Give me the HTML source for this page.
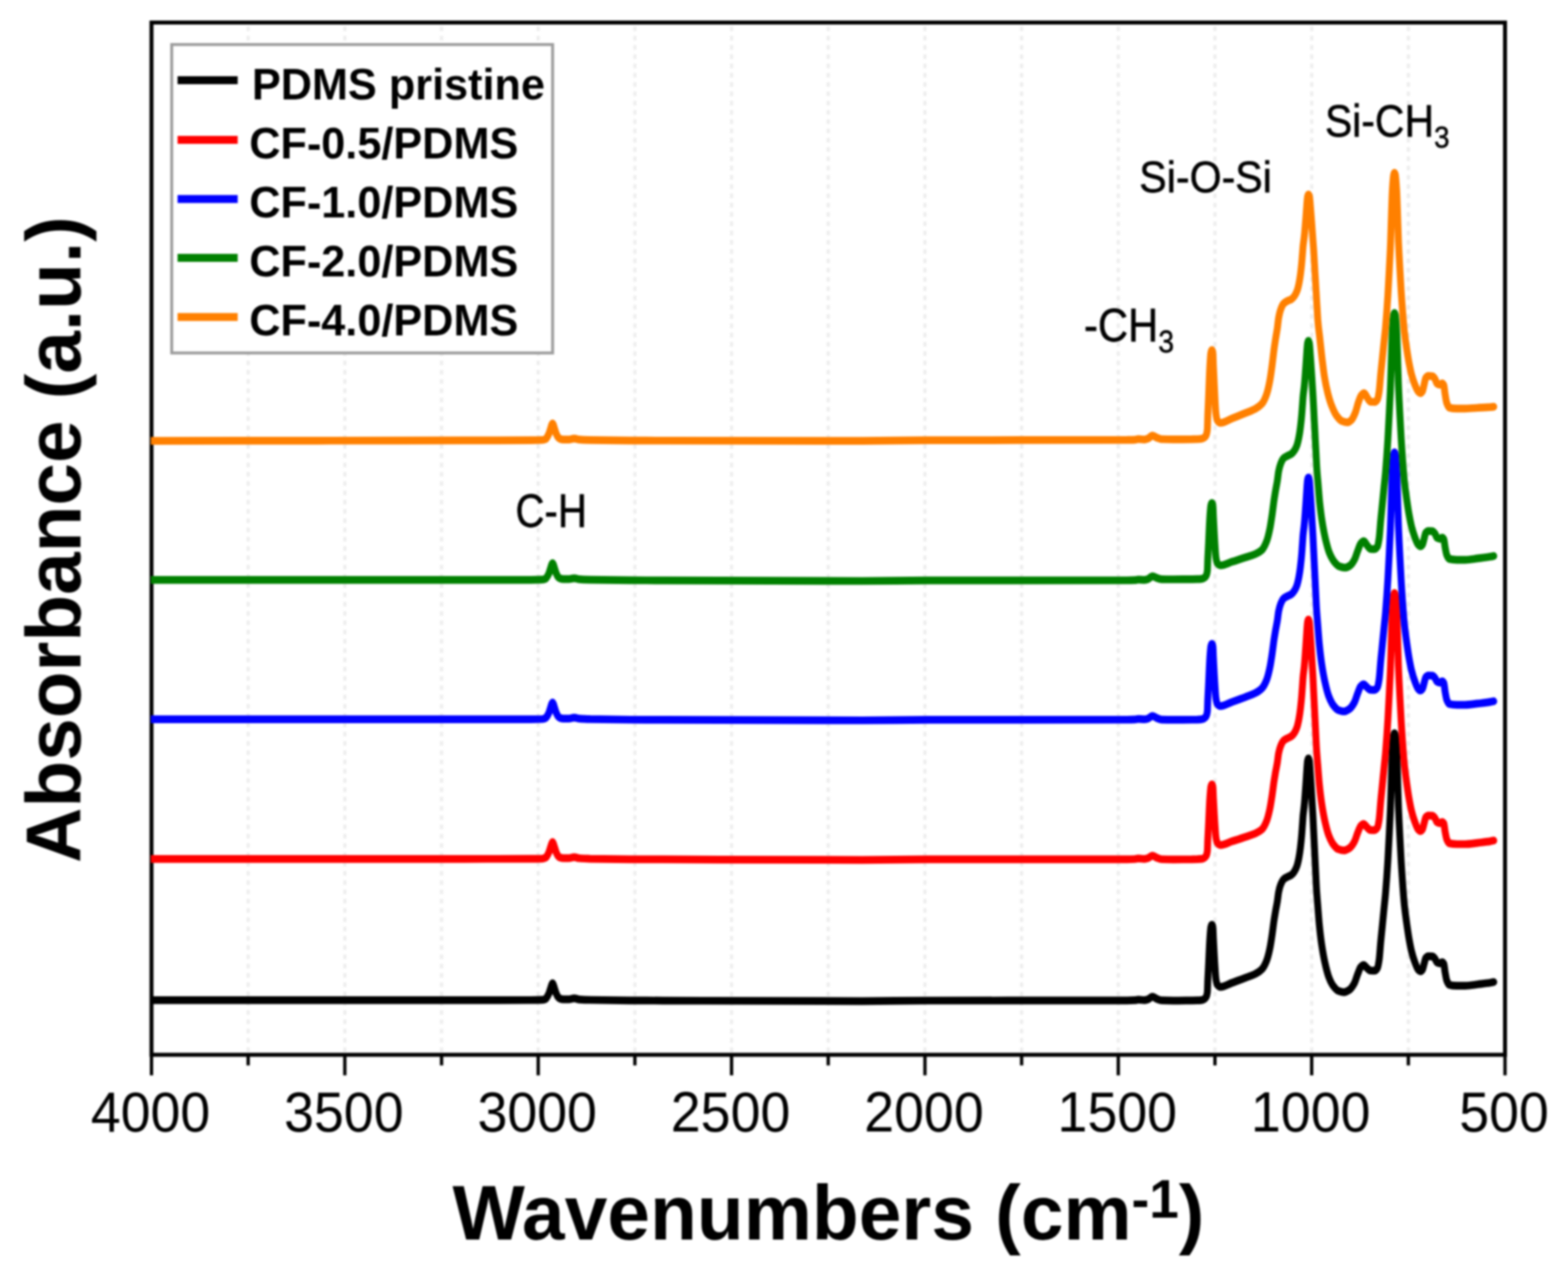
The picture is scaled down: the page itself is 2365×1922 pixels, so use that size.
<!DOCTYPE html>
<html lang="en"><head><meta charset="utf-8"><title>FTIR absorbance spectra</title>
<style>
html,body{margin:0;padding:0;background:#fff;}
body{width:2365px;height:1922px;overflow:hidden;}
svg{display:block;}
text{font-family:"Liberation Sans",Arial,Helvetica,sans-serif;fill:#000;}
.b{font-weight:bold;}
.tick{font-size:81px;text-anchor:middle;}
.leg{font-size:65.2px;font-weight:bold;}
.ann{stroke:#000;stroke-width:0.8px;}
.curve{fill:none;stroke-width:10.4;stroke-linejoin:round;stroke-linecap:round;}
</style></head><body>
<svg xmlns="http://www.w3.org/2000/svg" width="2365" height="1922" viewBox="0 0 2365 1922">
<defs><filter id="soft" x="0" y="0" width="2365" height="1922" filterUnits="userSpaceOnUse" color-interpolation-filters="sRGB"><feGaussianBlur stdDeviation="1.7"/></filter></defs>
<rect x="0" y="0" width="2365" height="1922" fill="#ffffff"/>
<g id="chart" filter="url(#soft)">
<g stroke="#eeeeee" stroke-width="5" stroke-dasharray="7 7" fill="none">
<line x1="374.3" y1="40.0" x2="374.3" y2="1591.3"/>
<line x1="520.1" y1="40.0" x2="520.1" y2="1591.3"/>
<line x1="666.0" y1="40.0" x2="666.0" y2="1591.3"/>
<line x1="811.8" y1="40.0" x2="811.8" y2="1591.3"/>
<line x1="957.6" y1="40.0" x2="957.6" y2="1591.3"/>
<line x1="1103.4" y1="40.0" x2="1103.4" y2="1591.3"/>
<line x1="1249.2" y1="40.0" x2="1249.2" y2="1591.3"/>
<line x1="1395.1" y1="40.0" x2="1395.1" y2="1591.3"/>
<line x1="1540.9" y1="40.0" x2="1540.9" y2="1591.3"/>
<line x1="1686.7" y1="40.0" x2="1686.7" y2="1591.3"/>
<line x1="1832.5" y1="40.0" x2="1832.5" y2="1591.3"/>
<line x1="1978.4" y1="40.0" x2="1978.4" y2="1591.3"/>
<line x1="2124.2" y1="40.0" x2="2124.2" y2="1591.3"/>
</g>
<rect x="228.5" y="34.0" width="2041.5" height="1557.3" fill="none" stroke="#000" stroke-width="6"/>
<clipPath id="cc"><rect x="227.5" y="0" width="2140" height="1922"/></clipPath>
<g class="curves" clip-path="url(#cc)"><g transform="scale(1,1.125)">
<path class="curve" stroke="#000000" d="M228.0,1341.2C318.7,1341.2 409.3,1341.2 500.0,1341.2C566.7,1341.2 633.3,1341.2 700.0,1341.2C733.3,1341.2 766.7,1341.1 800.0,1341.1C806.0,1341.1 812.0,1341.0 818.0,1340.7C819.6,1340.6 821.3,1340.3 822.9,1339.6C823.6,1339.3 824.2,1338.2 824.9,1337.3C825.9,1336.0 826.9,1334.4 827.9,1332.3C828.9,1330.2 829.8,1326.9 830.8,1324.3C831.3,1322.8 831.9,1321.0 832.4,1320.0C832.7,1319.4 833.1,1318.6 833.4,1318.6C833.7,1318.6 834.1,1319.4 834.4,1320.0C834.9,1321.0 835.5,1322.8 836.0,1324.3C837.0,1326.9 837.9,1330.2 838.9,1332.3C839.9,1334.4 840.9,1336.3 841.9,1337.3C842.8,1338.2 843.6,1339.0 844.5,1339.2C846.3,1339.7 848.2,1340.1 850.0,1340.1C852.7,1340.1 855.3,1340.1 858.0,1340.1C860.7,1340.1 863.3,1338.8 866.0,1338.8C868.7,1338.8 871.3,1340.1 874.0,1340.3C879.3,1340.6 884.7,1340.8 890.0,1340.9C910.0,1341.3 930.0,1341.5 950.0,1341.6C966.7,1341.7 983.3,1341.7 1000.0,1341.8C1100.0,1342.1 1200.0,1342.5 1300.0,1342.5C1333.3,1342.5 1366.7,1341.8 1400.0,1341.8C1500.0,1341.7 1600.0,1341.8 1700.0,1341.6C1704.0,1341.6 1708.0,1341.5 1712.0,1341.3C1713.7,1341.3 1715.3,1340.6 1717.0,1340.6C1720.0,1340.6 1723.0,1341.2 1726.0,1341.2C1727.8,1341.2 1729.7,1340.6 1731.5,1340.1C1733.8,1339.5 1736.0,1336.5 1738.3,1336.5C1740.5,1336.5 1742.8,1338.8 1745.0,1339.6C1747.3,1340.4 1749.7,1341.4 1752.0,1341.5C1758.0,1341.8 1764.0,1341.9 1770.0,1341.9C1779.3,1341.9 1788.7,1341.7 1798.0,1341.6C1800.7,1341.6 1803.3,1341.6 1806.0,1341.5C1808.3,1341.5 1810.7,1341.3 1813.0,1341.0C1814.3,1340.8 1815.7,1340.2 1817.0,1339.4C1817.8,1338.9 1818.7,1338.0 1819.5,1336.4C1820.0,1335.5 1820.5,1334.2 1821.0,1330.7C1821.3,1328.8 1821.5,1317.7 1821.8,1312.5C1822.1,1306.7 1822.4,1302.5 1822.7,1297.2C1823.4,1285.0 1824.1,1267.9 1824.8,1258.8C1825.3,1252.4 1825.8,1245.9 1826.3,1243.6C1826.6,1242.3 1826.8,1241.3 1827.1,1240.9C1827.4,1240.4 1827.6,1240.0 1827.9,1240.0C1828.2,1240.0 1828.4,1240.4 1828.7,1240.9C1828.9,1241.3 1829.2,1242.1 1829.4,1243.6C1829.7,1245.2 1829.9,1254.1 1830.2,1258.8C1831.0,1273.0 1831.8,1286.6 1832.6,1297.2C1833.0,1303.0 1833.5,1310.0 1833.9,1312.5C1834.6,1316.7 1835.3,1319.6 1836.0,1320.4C1837.6,1322.3 1839.2,1323.5 1840.8,1323.5C1846.6,1323.5 1852.5,1319.8 1858.3,1317.9C1865.3,1315.6 1872.4,1313.3 1879.4,1310.9C1884.1,1309.3 1888.7,1308.1 1893.4,1306.0C1896.7,1304.4 1900.0,1302.8 1903.3,1299.7C1905.6,1297.6 1908.0,1293.7 1910.3,1288.5C1911.9,1284.9 1913.6,1279.1 1915.2,1272.3C1916.4,1267.4 1917.5,1260.5 1918.7,1253.5C1919.6,1247.9 1920.6,1240.4 1921.5,1234.8C1922.3,1229.9 1923.2,1225.6 1924.0,1221.3C1924.9,1216.9 1925.7,1213.7 1926.6,1208.9C1927.2,1205.4 1927.9,1199.4 1928.5,1196.5C1929.5,1192.0 1930.5,1188.8 1931.5,1186.6C1933.0,1183.2 1934.5,1180.5 1936.0,1179.2C1938.0,1177.5 1939.9,1176.9 1941.9,1175.9C1943.9,1174.9 1945.9,1174.5 1947.9,1173.2C1949.4,1172.3 1950.9,1170.6 1952.4,1168.5C1953.7,1166.8 1954.9,1164.5 1956.2,1161.2C1957.2,1158.7 1958.2,1154.7 1959.2,1150.0C1959.9,1146.5 1960.7,1141.9 1961.4,1136.6C1962.0,1132.1 1962.7,1126.5 1963.3,1120.0C1963.7,1116.2 1964.0,1111.1 1964.4,1106.7C1964.8,1102.2 1965.1,1096.9 1965.5,1093.3C1966.1,1087.9 1966.6,1085.3 1967.2,1080.0C1968.0,1072.9 1968.7,1062.9 1969.5,1053.3C1970.0,1047.5 1970.4,1040.9 1970.9,1034.7C1971.1,1032.0 1971.3,1028.8 1971.5,1026.7C1971.8,1023.8 1972.0,1020.5 1972.3,1019.6C1972.7,1018.1 1973.1,1016.9 1973.5,1016.9C1973.9,1016.9 1974.3,1018.1 1974.7,1019.6C1975.0,1020.5 1975.2,1023.8 1975.5,1026.7C1975.7,1028.8 1975.9,1032.0 1976.1,1034.7C1976.6,1040.9 1977.0,1046.8 1977.5,1053.3C1978.1,1061.7 1978.7,1071.1 1979.3,1080.0C1979.6,1084.4 1979.9,1088.5 1980.2,1093.3C1980.6,1099.3 1980.9,1106.7 1981.3,1113.3C1981.7,1120.0 1982.0,1126.6 1982.4,1133.2C1982.8,1139.9 1983.1,1146.6 1983.5,1153.2C1983.9,1159.9 1984.2,1166.6 1984.6,1173.2C1984.9,1179.3 1985.3,1186.3 1985.6,1191.1C1986.2,1199.8 1986.8,1205.6 1987.4,1212.4C1988.3,1222.3 1989.1,1233.1 1990.0,1240.9C1991.1,1250.8 1992.2,1259.1 1993.3,1265.8C1995.0,1275.9 1996.6,1284.0 1998.3,1290.7C2000.2,1298.3 2002.1,1305.2 2004.0,1309.7C2006.3,1315.2 2008.7,1319.5 2011.0,1322.2C2013.5,1325.1 2015.9,1327.9 2018.4,1328.7C2021.2,1329.7 2024.1,1330.5 2026.9,1330.5C2029.7,1330.5 2032.4,1329.0 2035.2,1327.4C2037.7,1325.9 2040.3,1322.5 2042.8,1318.4C2044.5,1315.6 2046.2,1309.7 2047.9,1306.0C2049.4,1302.7 2050.8,1298.4 2052.3,1297.0C2053.8,1295.5 2055.2,1294.1 2056.7,1294.1C2058.4,1294.1 2060.1,1296.9 2061.8,1298.1C2063.5,1299.4 2065.2,1301.4 2066.9,1301.5C2069.0,1301.6 2071.1,1301.7 2073.2,1301.7C2074.7,1301.7 2076.1,1300.3 2077.6,1298.1C2078.5,1296.9 2079.3,1292.2 2080.2,1286.8C2080.9,1282.3 2081.7,1271.4 2082.4,1264.4C2083.2,1256.4 2084.1,1249.3 2084.9,1241.8C2085.7,1234.3 2086.6,1226.8 2087.4,1219.3C2088.2,1211.8 2089.1,1205.4 2089.9,1196.7C2091.0,1184.9 2092.2,1170.4 2093.3,1153.8C2094.0,1143.0 2094.8,1129.7 2095.5,1116.4C2096.1,1105.0 2096.8,1094.7 2097.4,1080.0C2097.9,1068.4 2098.4,1049.6 2098.9,1036.4C2099.3,1026.8 2099.6,1016.2 2100.0,1009.8C2100.4,1002.1 2100.9,996.2 2101.3,992.0C2101.6,989.4 2101.8,986.7 2102.1,985.8C2102.5,984.3 2102.9,983.1 2103.3,983.1C2103.7,983.1 2104.1,984.3 2104.5,985.8C2104.8,986.7 2105.0,989.4 2105.3,992.0C2105.7,996.2 2106.2,1002.1 2106.6,1009.8C2107.0,1016.2 2107.3,1026.8 2107.7,1036.4C2108.2,1049.6 2108.7,1068.4 2109.2,1080.0C2109.8,1094.7 2110.5,1105.0 2111.1,1116.4C2111.8,1129.7 2112.6,1142.8 2113.3,1153.8C2114.2,1167.8 2115.2,1180.1 2116.1,1191.1C2116.8,1199.4 2117.5,1207.6 2118.2,1213.6C2119.3,1222.8 2120.3,1229.3 2121.4,1236.2C2122.7,1244.4 2123.9,1252.2 2125.2,1258.7C2126.5,1265.1 2127.7,1271.0 2129.0,1275.6C2130.7,1281.5 2132.3,1286.3 2134.0,1290.2C2135.7,1294.3 2137.4,1298.7 2139.1,1300.4C2140.2,1301.4 2141.2,1302.6 2142.3,1302.6C2143.3,1302.6 2144.4,1301.6 2145.4,1300.4C2146.3,1299.3 2147.1,1295.1 2148.0,1292.4C2148.8,1289.9 2149.7,1285.5 2150.5,1284.6C2151.8,1283.3 2153.0,1282.3 2154.3,1282.3C2156.4,1282.3 2158.5,1282.4 2160.6,1282.6C2161.9,1282.7 2163.1,1284.3 2164.4,1285.7C2165.5,1286.9 2166.5,1290.3 2167.6,1290.8C2169.1,1291.4 2170.5,1291.9 2172.0,1291.9C2173.1,1291.9 2174.1,1290.2 2175.2,1290.2C2176.0,1290.2 2176.9,1291.1 2177.7,1292.4C2178.3,1293.5 2179.0,1300.5 2179.6,1303.7C2180.5,1308.1 2181.3,1313.1 2182.2,1315.0C2183.5,1317.9 2184.7,1320.3 2186.0,1320.6C2189.8,1321.5 2193.6,1321.8 2197.4,1321.8C2201.6,1321.8 2205.8,1321.8 2210.0,1321.8C2216.3,1321.8 2222.7,1320.7 2229.0,1320.0C2235.3,1319.3 2241.7,1318.7 2248.0,1317.8C2249.7,1317.5 2251.3,1317.2 2253.0,1316.9"/>
<path class="curve" stroke="#ff0000" d="M228.0,1151.8C318.7,1151.8 409.3,1151.8 500.0,1151.8C566.7,1151.8 633.3,1151.8 700.0,1151.8C733.3,1151.8 766.7,1151.8 800.0,1151.7C806.0,1151.7 812.0,1151.6 818.0,1151.4C819.6,1151.3 821.3,1150.9 822.9,1150.2C823.6,1149.9 824.2,1148.9 824.9,1148.0C825.9,1146.7 826.9,1145.0 827.9,1142.9C828.9,1140.9 829.8,1137.6 830.8,1134.9C831.3,1133.5 831.9,1131.6 832.4,1130.7C832.7,1130.1 833.1,1129.2 833.4,1129.2C833.7,1129.2 834.1,1130.1 834.4,1130.7C834.9,1131.6 835.5,1133.5 836.0,1134.9C837.0,1137.6 837.9,1140.9 838.9,1142.9C839.9,1145.0 840.9,1147.0 841.9,1148.0C842.8,1148.9 843.6,1149.6 844.5,1149.9C846.3,1150.4 848.2,1150.8 850.0,1150.8C852.7,1150.8 855.3,1150.8 858.0,1150.8C860.7,1150.8 863.3,1149.5 866.0,1149.5C868.7,1149.5 871.3,1150.8 874.0,1150.9C879.3,1151.3 884.7,1151.4 890.0,1151.6C910.0,1152.0 930.0,1152.2 950.0,1152.3C966.7,1152.4 983.3,1152.4 1000.0,1152.4C1100.0,1152.7 1200.0,1153.2 1300.0,1153.2C1333.3,1153.2 1366.7,1152.5 1400.0,1152.4C1500.0,1152.3 1600.0,1152.4 1700.0,1152.3C1704.0,1152.3 1708.0,1152.2 1712.0,1152.0C1713.7,1151.9 1715.3,1151.3 1717.0,1151.3C1720.0,1151.3 1723.0,1151.8 1726.0,1151.8C1727.8,1151.8 1729.7,1151.3 1731.5,1150.8C1733.8,1150.2 1736.0,1147.4 1738.3,1147.4C1740.5,1147.4 1742.8,1149.6 1745.0,1150.3C1747.3,1151.1 1749.7,1152.1 1752.0,1152.2C1758.0,1152.4 1764.0,1152.5 1770.0,1152.5C1779.3,1152.5 1788.7,1152.4 1798.0,1152.3C1800.7,1152.2 1803.3,1152.2 1806.0,1152.2C1808.3,1152.1 1810.7,1152.0 1813.0,1151.7C1814.3,1151.5 1815.7,1150.9 1817.0,1150.1C1817.8,1149.6 1818.7,1148.7 1819.5,1147.2C1820.0,1146.2 1820.5,1145.0 1821.0,1141.5C1821.3,1139.6 1821.5,1128.7 1821.8,1123.6C1822.1,1117.8 1822.4,1113.6 1822.7,1108.5C1823.4,1096.3 1824.1,1079.4 1824.8,1070.5C1825.3,1064.2 1825.8,1057.8 1826.3,1055.4C1826.6,1054.2 1826.8,1053.2 1827.1,1052.8C1827.4,1052.4 1827.6,1051.9 1827.9,1051.9C1828.2,1051.9 1828.4,1052.3 1828.7,1052.8C1828.9,1053.2 1829.2,1054.0 1829.4,1055.4C1829.7,1057.0 1829.9,1065.7 1830.2,1070.3C1831.0,1084.0 1831.8,1097.2 1832.6,1107.6C1833.0,1113.3 1833.5,1120.0 1833.9,1122.5C1834.6,1126.6 1835.3,1129.4 1836.0,1130.2C1837.6,1132.1 1839.2,1133.2 1840.8,1133.2C1846.6,1133.2 1852.5,1129.9 1858.3,1128.2C1865.3,1126.2 1872.4,1124.2 1879.4,1122.1C1884.1,1120.7 1888.7,1119.6 1893.4,1117.7C1896.7,1116.4 1900.0,1115.0 1903.3,1112.3C1905.6,1110.3 1908.0,1106.3 1910.3,1101.2C1911.9,1097.6 1913.6,1091.8 1915.2,1085.1C1916.4,1080.3 1917.5,1073.5 1918.7,1066.6C1919.6,1061.1 1920.6,1053.7 1921.5,1048.2C1922.3,1043.3 1923.2,1039.0 1924.0,1034.8C1924.9,1030.5 1925.7,1027.3 1926.6,1022.5C1927.2,1019.1 1927.9,1013.1 1928.5,1010.3C1929.5,1005.9 1930.5,1002.7 1931.5,1000.5C1933.0,997.2 1934.5,994.5 1936.0,993.2C1938.0,991.6 1939.9,990.9 1941.9,990.0C1943.9,989.0 1945.9,988.6 1947.9,987.3C1949.4,986.3 1950.9,984.6 1952.4,982.6C1953.7,980.8 1954.9,978.5 1956.2,975.3C1957.2,972.7 1958.2,968.7 1959.2,964.0C1959.9,960.5 1960.7,955.9 1961.4,950.6C1962.0,946.1 1962.7,940.5 1963.3,934.0C1963.7,930.2 1964.0,925.1 1964.4,920.6C1964.8,916.2 1965.1,910.8 1965.5,907.3C1966.1,901.8 1966.6,899.2 1967.2,893.9C1968.0,886.8 1968.7,876.8 1969.5,867.2C1970.0,861.4 1970.4,854.8 1970.9,848.6C1971.1,845.9 1971.3,842.7 1971.5,840.5C1971.8,837.7 1972.0,834.4 1972.3,833.4C1972.7,831.9 1973.1,830.8 1973.5,830.8C1973.9,830.8 1974.3,831.9 1974.7,833.4C1975.0,834.4 1975.2,837.6 1975.5,840.4C1975.7,842.5 1975.9,845.7 1976.1,848.3C1976.6,854.5 1977.0,860.3 1977.5,866.7C1978.1,875.0 1978.7,884.3 1979.3,893.1C1979.6,897.5 1979.9,901.4 1980.2,906.2C1980.6,912.1 1980.9,919.4 1981.3,926.0C1981.7,932.6 1982.0,939.1 1982.4,945.7C1982.8,952.2 1983.1,958.8 1983.5,965.4C1983.9,972.0 1984.2,978.6 1984.6,985.2C1984.9,991.1 1985.3,998.0 1985.6,1002.8C1986.2,1011.4 1986.8,1017.1 1987.4,1023.9C1988.3,1033.6 1989.1,1044.3 1990.0,1052.0C1991.1,1061.7 1992.2,1069.9 1993.3,1076.5C1995.0,1086.6 1996.6,1094.5 1998.3,1101.1C2000.2,1108.6 2002.1,1115.5 2004.0,1119.9C2006.3,1125.3 2008.7,1129.6 2011.0,1132.3C2013.5,1135.2 2015.9,1137.9 2018.4,1138.7C2021.2,1139.6 2024.1,1140.4 2026.9,1140.4C2029.7,1140.4 2032.4,1139.0 2035.2,1137.4C2037.7,1136.0 2040.3,1132.7 2042.8,1128.6C2044.5,1125.9 2046.2,1120.1 2047.9,1116.5C2049.4,1113.3 2050.8,1109.1 2052.3,1107.7C2053.8,1106.3 2055.2,1104.9 2056.7,1104.9C2058.4,1104.9 2060.1,1108.0 2061.8,1109.3C2063.5,1110.7 2065.2,1112.9 2066.9,1113.0C2069.0,1113.2 2071.1,1113.2 2073.2,1113.2C2074.7,1113.2 2076.1,1111.8 2077.6,1109.7C2078.5,1108.4 2079.3,1103.8 2080.2,1098.4C2080.9,1093.9 2081.7,1083.0 2082.4,1076.0C2083.2,1068.0 2084.1,1060.9 2084.9,1053.4C2085.7,1045.9 2086.6,1038.5 2087.4,1031.0C2088.2,1023.5 2089.1,1017.1 2089.9,1008.4C2091.0,996.6 2092.2,982.1 2093.3,965.5C2094.0,954.8 2094.8,941.5 2095.5,928.3C2096.1,916.9 2096.8,906.6 2097.4,891.9C2097.9,880.2 2098.4,861.5 2098.9,848.4C2099.3,838.7 2099.6,828.2 2100.0,821.7C2100.4,814.1 2100.9,808.2 2101.3,804.0C2101.6,801.4 2101.8,798.7 2102.1,797.8C2102.5,796.3 2102.9,795.1 2103.3,795.1C2103.7,795.1 2104.1,796.3 2104.5,797.8C2104.8,798.7 2105.0,801.4 2105.3,804.0C2105.7,808.2 2106.2,814.1 2106.6,821.8C2107.0,828.2 2107.3,838.8 2107.7,848.4C2108.2,861.6 2108.7,880.3 2109.2,892.0C2109.8,906.7 2110.5,917.0 2111.1,928.4C2111.8,941.6 2112.6,954.7 2113.3,965.7C2114.2,979.7 2115.2,992.0 2116.1,1003.1C2116.8,1011.3 2117.5,1019.5 2118.2,1025.5C2119.3,1034.7 2120.3,1041.2 2121.4,1048.1C2122.7,1056.3 2123.9,1064.2 2125.2,1070.6C2126.5,1077.0 2127.7,1083.0 2129.0,1087.5C2130.7,1093.4 2132.3,1098.2 2134.0,1102.1C2135.7,1106.2 2137.4,1110.6 2139.1,1112.3C2140.2,1113.3 2141.2,1114.5 2142.3,1114.5C2143.3,1114.5 2144.4,1113.5 2145.4,1112.2C2146.3,1111.1 2147.1,1106.8 2148.0,1104.0C2148.8,1101.4 2149.7,1096.9 2150.5,1096.0C2151.8,1094.6 2153.0,1093.6 2154.3,1093.6C2156.4,1093.6 2158.5,1093.7 2160.6,1093.9C2161.9,1094.0 2163.1,1095.7 2164.4,1097.2C2165.5,1098.4 2166.5,1102.1 2167.6,1102.6C2169.1,1103.3 2170.5,1103.8 2172.0,1103.8C2173.1,1103.8 2174.1,1102.2 2175.2,1102.2C2176.0,1102.2 2176.9,1103.1 2177.7,1104.3C2178.3,1105.3 2179.0,1112.0 2179.6,1115.0C2180.5,1119.1 2181.3,1123.8 2182.2,1125.6C2183.5,1128.3 2184.7,1130.6 2186.0,1130.9C2189.8,1131.7 2193.6,1132.0 2197.4,1132.0C2201.6,1132.0 2205.8,1132.0 2210.0,1132.0C2216.3,1132.0 2222.7,1130.9 2229.0,1130.3C2235.3,1129.6 2241.7,1129.0 2248.0,1128.1C2249.7,1127.8 2251.3,1127.5 2253.0,1127.2"/>
<path class="curve" stroke="#0000ff" d="M228.0,964.6C318.7,964.6 409.3,964.6 500.0,964.6C566.7,964.6 633.3,964.6 700.0,964.6C733.3,964.6 766.7,964.6 800.0,964.5C806.0,964.5 812.0,964.4 818.0,964.2C819.6,964.1 821.3,963.7 822.9,963.0C823.6,962.7 824.2,961.7 824.9,960.8C825.9,959.5 826.9,957.8 827.9,955.7C828.9,953.7 829.8,950.4 830.8,947.7C831.3,946.3 831.9,944.4 832.4,943.5C832.7,942.9 833.1,942.0 833.4,942.0C833.7,942.0 834.1,942.9 834.4,943.5C834.9,944.4 835.5,946.3 836.0,947.7C837.0,950.4 837.9,953.7 838.9,955.7C839.9,957.8 840.9,959.8 841.9,960.8C842.8,961.7 843.6,962.4 844.5,962.7C846.3,963.2 848.2,963.6 850.0,963.6C852.7,963.6 855.3,963.6 858.0,963.6C860.7,963.6 863.3,962.3 866.0,962.3C868.7,962.3 871.3,963.6 874.0,963.7C879.3,964.1 884.7,964.2 890.0,964.4C910.0,964.8 930.0,965.0 950.0,965.1C966.7,965.2 983.3,965.2 1000.0,965.2C1100.0,965.5 1200.0,966.0 1300.0,966.0C1333.3,966.0 1366.7,965.3 1400.0,965.2C1500.0,965.1 1600.0,965.2 1700.0,965.1C1704.0,965.1 1708.0,965.0 1712.0,964.8C1713.7,964.7 1715.3,964.1 1717.0,964.1C1720.0,964.1 1723.0,964.6 1726.0,964.6C1727.8,964.6 1729.7,964.1 1731.5,963.6C1733.8,962.9 1736.0,960.0 1738.3,960.0C1740.5,960.0 1742.8,962.3 1745.0,963.0C1747.3,963.8 1749.7,964.9 1752.0,965.0C1758.0,965.2 1764.0,965.3 1770.0,965.3C1779.3,965.3 1788.7,965.2 1798.0,965.1C1800.7,965.0 1803.3,965.0 1806.0,965.0C1808.3,964.9 1810.7,964.8 1813.0,964.4C1814.3,964.3 1815.7,963.7 1817.0,962.8C1817.8,962.3 1818.7,961.5 1819.5,959.9C1820.0,959.0 1820.5,957.7 1821.0,954.1C1821.3,952.2 1821.5,941.2 1821.8,936.0C1822.1,930.2 1822.4,926.0 1822.7,920.7C1823.4,908.4 1824.1,891.3 1824.8,882.3C1825.3,875.9 1825.8,869.4 1826.3,867.0C1826.6,865.7 1826.8,864.8 1827.1,864.4C1827.4,863.9 1827.6,863.5 1827.9,863.5C1828.2,863.5 1828.4,863.9 1828.7,864.4C1828.9,864.8 1829.2,865.6 1829.4,867.0C1829.7,868.7 1829.9,877.6 1830.2,882.3C1831.0,896.5 1831.8,910.0 1832.6,920.7C1833.0,926.5 1833.5,933.4 1833.9,936.0C1834.6,940.2 1835.3,943.1 1836.0,943.9C1837.6,945.8 1839.2,946.9 1840.8,946.9C1846.6,946.9 1852.5,943.2 1858.3,941.3C1865.3,939.1 1872.4,936.8 1879.4,934.4C1884.1,932.8 1888.7,931.6 1893.4,929.4C1896.7,927.9 1900.0,926.3 1903.3,923.2C1905.6,921.0 1908.0,917.1 1910.3,912.0C1911.9,908.4 1913.6,902.5 1915.2,895.7C1916.4,890.9 1917.5,883.9 1918.7,877.0C1919.6,871.4 1920.6,863.9 1921.5,858.3C1922.3,853.3 1923.2,849.0 1924.0,844.8C1924.9,840.4 1925.7,837.2 1926.6,832.4C1927.2,828.8 1927.9,822.9 1928.5,820.0C1929.5,815.5 1930.5,812.3 1931.5,810.0C1933.0,806.7 1934.5,803.9 1936.0,802.7C1938.0,801.0 1939.9,800.4 1941.9,799.4C1943.9,798.4 1945.9,798.0 1947.9,796.7C1949.4,795.8 1950.9,794.0 1952.4,792.0C1953.7,790.3 1954.9,788.0 1956.2,784.7C1957.2,782.1 1958.2,778.1 1959.2,773.4C1959.9,770.0 1960.7,765.4 1961.4,760.1C1962.0,755.5 1962.7,750.0 1963.3,743.5C1963.7,739.7 1964.0,734.6 1964.4,730.1C1964.8,725.7 1965.1,720.3 1965.5,716.8C1966.1,711.3 1966.6,708.7 1967.2,703.5C1968.0,696.4 1968.7,686.4 1969.5,676.8C1970.0,671.0 1970.4,664.4 1970.9,658.1C1971.1,655.5 1971.3,652.3 1971.5,650.1C1971.8,647.3 1972.0,644.0 1972.3,643.0C1972.7,641.5 1973.1,640.4 1973.5,640.4C1973.9,640.4 1974.3,641.5 1974.7,643.0C1975.0,644.0 1975.2,647.3 1975.5,650.1C1975.7,652.3 1975.9,655.5 1976.1,658.1C1976.6,664.4 1977.0,670.3 1977.5,676.8C1978.1,685.2 1978.7,694.6 1979.3,703.5C1979.6,707.9 1979.9,711.9 1980.2,716.8C1980.6,722.8 1980.9,730.1 1981.3,736.8C1981.7,743.5 1982.0,750.1 1982.4,756.7C1982.8,763.4 1983.1,770.0 1983.5,776.7C1983.9,783.4 1984.2,790.1 1984.6,796.7C1984.9,802.7 1985.3,809.7 1985.6,814.6C1986.2,823.3 1986.8,829.1 1987.4,835.9C1988.3,845.8 1989.1,856.6 1990.0,864.4C1991.1,874.2 1992.2,882.6 1993.3,889.2C1995.0,899.4 1996.6,907.4 1998.3,914.1C2000.2,921.8 2002.1,928.7 2004.0,933.2C2006.3,938.7 2008.7,942.9 2011.0,945.7C2013.5,948.6 2015.9,951.3 2018.4,952.2C2021.2,953.1 2024.1,954.0 2026.9,954.0C2029.7,954.0 2032.4,952.4 2035.2,950.8C2037.7,949.4 2040.3,946.0 2042.8,941.9C2044.5,939.1 2046.2,933.2 2047.9,929.4C2049.4,926.2 2050.8,921.9 2052.3,920.4C2053.8,919.0 2055.2,917.6 2056.7,917.6C2058.4,917.6 2060.1,920.4 2061.8,921.6C2063.5,922.8 2065.2,924.9 2066.9,925.0C2069.0,925.1 2071.1,925.2 2073.2,925.2C2074.7,925.2 2076.1,923.7 2077.6,921.6C2078.5,920.3 2079.3,915.7 2080.2,910.3C2080.9,905.8 2081.7,894.9 2082.4,887.8C2083.2,879.8 2084.1,872.8 2084.9,865.2C2085.7,857.7 2086.6,850.3 2087.4,842.8C2088.2,835.2 2089.1,828.9 2089.9,820.2C2091.0,808.3 2092.2,793.8 2093.3,777.2C2094.0,766.5 2094.8,753.1 2095.5,739.9C2096.1,728.5 2096.8,718.2 2097.4,703.5C2097.9,691.8 2098.4,673.1 2098.9,659.9C2099.3,650.3 2099.6,639.7 2100.0,633.2C2100.4,625.6 2100.9,619.7 2101.3,615.5C2101.6,612.9 2101.8,610.2 2102.1,609.2C2102.5,607.8 2102.9,606.6 2103.3,606.6C2103.7,606.6 2104.1,607.8 2104.5,609.2C2104.8,610.2 2105.0,612.9 2105.3,615.5C2105.7,619.7 2106.2,625.6 2106.6,633.2C2107.0,639.7 2107.3,650.3 2107.7,659.9C2108.2,673.1 2108.7,691.8 2109.2,703.5C2109.8,718.2 2110.5,728.5 2111.1,739.9C2111.8,753.1 2112.6,766.2 2113.3,777.2C2114.2,791.2 2115.2,803.5 2116.1,814.6C2116.8,822.8 2117.5,831.0 2118.2,837.1C2119.3,846.3 2120.3,852.8 2121.4,859.6C2122.7,867.8 2123.9,875.7 2125.2,882.1C2126.5,888.6 2127.7,894.5 2129.0,899.0C2130.7,905.0 2132.3,909.7 2134.0,913.7C2135.7,917.7 2137.4,922.1 2139.1,923.8C2140.2,924.9 2141.2,926.0 2142.3,926.0C2143.3,926.0 2144.4,925.0 2145.4,923.8C2146.3,922.8 2147.1,918.6 2148.0,915.9C2148.8,913.3 2149.7,909.0 2150.5,908.1C2151.8,906.7 2153.0,905.8 2154.3,905.8C2156.4,905.8 2158.5,905.9 2160.6,906.0C2161.9,906.2 2163.1,907.8 2164.4,909.2C2165.5,910.3 2166.5,913.7 2167.6,914.2C2169.1,914.9 2170.5,915.4 2172.0,915.4C2173.1,915.4 2174.1,913.7 2175.2,913.7C2176.0,913.7 2176.9,914.6 2177.7,915.9C2178.3,916.9 2179.0,924.0 2179.6,927.2C2180.5,931.6 2181.3,936.5 2182.2,938.5C2183.5,941.4 2184.7,943.8 2186.0,944.1C2189.8,944.9 2193.6,945.2 2197.4,945.2C2201.6,945.2 2205.8,945.2 2210.0,945.2C2216.3,945.2 2222.7,944.1 2229.0,943.5C2235.3,942.8 2241.7,942.2 2248.0,941.2C2249.7,941.0 2251.3,940.7 2253.0,940.4"/>
<path class="curve" stroke="#008000" d="M228.0,777.6C318.7,777.6 409.3,777.6 500.0,777.6C566.7,777.6 633.3,777.7 700.0,777.7C733.3,777.7 766.7,777.6 800.0,777.6C806.0,777.6 812.0,777.5 818.0,777.2C819.6,777.2 821.3,776.8 822.9,776.1C823.6,775.8 824.2,774.7 824.9,773.8C825.9,772.5 826.9,770.9 827.9,768.8C828.9,766.8 829.8,763.4 830.8,760.8C831.3,759.3 831.9,757.5 832.4,756.5C832.7,755.9 833.1,755.1 833.4,755.1C833.7,755.1 834.1,755.9 834.4,756.5C834.9,757.5 835.5,759.3 836.0,760.8C837.0,763.4 837.9,766.8 838.9,768.8C839.9,770.9 840.9,772.9 841.9,773.9C842.8,774.7 843.6,775.5 844.5,775.7C846.3,776.2 848.2,776.6 850.0,776.6C852.7,776.6 855.3,776.6 858.0,776.6C860.7,776.6 863.3,775.4 866.0,775.4C868.7,775.4 871.3,776.6 874.0,776.8C879.3,777.2 884.7,777.3 890.0,777.4C910.0,777.8 930.0,778.0 950.0,778.1C966.7,778.2 983.3,778.3 1000.0,778.3C1100.0,778.6 1200.0,779.1 1300.0,779.1C1333.3,779.1 1366.7,778.4 1400.0,778.4C1500.0,778.3 1600.0,778.4 1700.0,778.2C1704.0,778.2 1708.0,778.1 1712.0,777.9C1713.7,777.9 1715.3,777.2 1717.0,777.2C1720.0,777.2 1723.0,777.7 1726.0,777.7C1727.8,777.7 1729.7,777.1 1731.5,776.6C1733.8,775.9 1736.0,772.7 1738.3,772.7C1740.5,772.7 1742.8,774.5 1745.0,775.1C1747.3,775.7 1749.7,776.6 1752.0,776.7C1758.0,776.9 1764.0,776.9 1770.0,776.9C1779.3,776.9 1788.7,776.8 1798.0,776.7C1800.7,776.7 1803.3,776.7 1806.0,776.6C1808.3,776.6 1810.7,776.4 1813.0,776.1C1814.3,775.9 1815.7,775.3 1817.0,774.5C1817.8,774.0 1818.7,773.1 1819.5,771.5C1820.0,770.6 1820.5,769.3 1821.0,765.7C1821.3,763.8 1821.5,752.7 1821.8,747.5C1822.1,741.6 1822.4,737.4 1822.7,732.1C1823.4,719.7 1824.1,702.5 1824.8,693.4C1825.3,687.0 1825.8,680.5 1826.3,678.1C1826.6,676.8 1826.8,675.8 1827.1,675.4C1827.4,674.9 1827.6,674.5 1827.9,674.5C1828.2,674.5 1828.4,674.9 1828.7,675.4C1828.9,675.8 1829.2,676.6 1829.4,678.1C1829.7,679.7 1829.9,688.6 1830.2,693.4C1831.0,707.5 1831.8,721.1 1832.6,731.9C1833.0,737.7 1833.5,744.6 1833.9,747.2C1834.6,751.3 1835.3,754.3 1836.0,755.1C1837.6,757.0 1839.2,758.1 1840.8,758.1C1846.6,758.1 1852.5,754.9 1858.3,753.3C1865.3,751.3 1872.4,749.4 1879.4,747.3C1884.1,745.9 1888.7,744.8 1893.4,743.0C1896.7,741.7 1900.0,740.4 1903.3,737.6C1905.6,735.6 1908.0,731.4 1910.3,726.2C1911.9,722.5 1913.6,716.5 1915.2,709.6C1916.4,704.6 1917.5,697.5 1918.7,690.4C1919.6,684.8 1920.6,677.1 1921.5,671.4C1922.3,666.3 1923.2,661.9 1924.0,657.6C1924.9,653.1 1925.7,649.8 1926.6,644.9C1927.2,641.3 1927.9,635.2 1928.5,632.3C1929.5,627.7 1930.5,624.5 1931.5,622.2C1933.0,618.7 1934.5,615.9 1936.0,614.6C1938.0,612.9 1939.9,612.3 1941.9,611.3C1943.9,610.3 1945.9,609.9 1947.9,608.7C1949.4,607.8 1950.9,606.1 1952.4,604.1C1953.7,602.5 1954.9,600.2 1956.2,597.1C1957.2,594.6 1958.2,590.7 1959.2,586.1C1959.9,582.8 1960.7,578.3 1961.4,573.2C1962.0,568.8 1962.7,563.4 1963.3,557.0C1963.7,553.4 1964.0,548.4 1964.4,544.1C1964.8,539.8 1965.1,534.6 1965.5,531.2C1966.1,525.8 1966.6,523.3 1967.2,518.2C1968.0,511.3 1968.7,501.6 1969.5,492.3C1970.0,486.7 1970.4,480.3 1970.9,474.2C1971.1,471.6 1971.3,468.6 1971.5,466.5C1971.8,463.7 1972.0,460.5 1972.3,459.6C1972.7,458.1 1973.1,457.0 1973.5,457.0C1973.9,457.0 1974.3,458.1 1974.7,459.6C1975.0,460.5 1975.3,463.7 1975.6,466.5C1975.8,468.6 1976.0,471.6 1976.2,474.2C1976.7,480.3 1977.2,486.0 1977.6,492.3C1978.3,500.5 1978.9,509.6 1979.5,518.2C1979.8,522.5 1980.1,526.4 1980.4,531.1C1980.8,536.9 1981.2,544.1 1981.6,550.6C1981.9,557.0 1982.3,563.4 1982.7,569.9C1983.1,576.3 1983.5,582.8 1983.8,589.3C1984.2,595.7 1984.6,602.3 1985.0,608.7C1985.3,614.5 1985.7,621.3 1986.0,626.0C1986.6,634.5 1987.2,640.1 1987.9,646.7C1988.8,656.3 1989.6,666.7 1990.5,674.3C1991.7,683.9 1992.8,692.0 1994.0,698.5C1995.7,708.3 1997.4,716.1 1999.1,722.6C2001.1,730.0 2003.0,736.7 2005.0,741.1C2007.4,746.4 2009.9,750.5 2012.3,753.2C2014.9,756.0 2017.5,758.7 2020.0,759.5C2023.0,760.5 2025.9,761.2 2028.9,761.2C2031.4,761.2 2034.0,759.8 2036.5,758.2C2038.8,756.8 2041.2,753.4 2043.5,749.4C2045.1,746.6 2046.7,740.9 2048.4,737.3C2049.8,734.0 2051.2,729.9 2052.7,728.5C2054.1,727.1 2055.6,725.7 2057.0,725.7C2058.7,725.7 2060.3,729.6 2062.0,731.3C2063.7,733.1 2065.4,736.0 2067.0,736.1C2069.1,736.3 2071.2,736.4 2073.2,736.4C2074.7,736.4 2076.1,734.9 2077.6,732.8C2078.5,731.6 2079.3,726.9 2080.2,721.6C2080.9,717.1 2081.7,706.2 2082.4,699.2C2083.2,691.3 2084.1,684.2 2084.9,676.8C2085.7,669.3 2086.6,661.9 2087.4,654.4C2088.2,646.9 2089.1,640.6 2089.9,632.0C2091.0,620.2 2092.2,605.8 2093.3,589.3C2094.0,578.6 2094.8,565.3 2095.5,552.1C2096.1,540.8 2096.8,530.6 2097.4,515.9C2097.9,504.3 2098.4,485.7 2098.9,472.6C2099.3,463.0 2099.6,452.5 2100.0,446.1C2100.4,438.5 2100.9,432.6 2101.3,428.4C2101.6,425.8 2101.8,423.2 2102.1,422.2C2102.5,420.8 2102.9,419.6 2103.3,419.6C2103.7,419.6 2104.1,420.8 2104.5,422.2C2104.8,423.1 2105.0,425.7 2105.3,428.3C2105.7,432.4 2106.2,438.2 2106.6,445.7C2107.0,452.0 2107.3,462.4 2107.7,471.8C2108.2,484.7 2108.7,503.1 2109.2,514.5C2109.8,529.0 2110.5,539.0 2111.1,550.2C2111.8,563.2 2112.6,576.0 2113.3,586.8C2114.2,600.5 2115.2,612.6 2116.1,623.4C2116.8,631.5 2117.5,639.5 2118.2,645.4C2119.3,654.4 2120.3,660.8 2121.4,667.6C2122.7,675.6 2123.9,683.3 2125.2,689.6C2126.5,695.9 2127.7,701.7 2129.0,706.1C2130.7,712.0 2132.3,716.6 2134.0,720.5C2135.7,724.5 2137.4,728.8 2139.1,730.4C2140.2,731.5 2141.2,732.6 2142.3,732.6C2143.3,732.6 2144.4,731.6 2145.4,730.4C2146.3,729.3 2147.1,725.0 2148.0,722.3C2148.8,719.7 2149.7,715.3 2150.5,714.3C2151.8,713.0 2153.0,712.0 2154.3,712.0C2156.4,712.0 2158.5,712.1 2160.6,712.3C2161.9,712.4 2163.1,714.2 2164.4,715.7C2165.5,717.0 2166.5,720.8 2167.6,721.3C2169.1,722.1 2170.5,722.6 2172.0,722.6C2173.1,722.6 2174.1,721.0 2175.2,721.0C2176.0,721.0 2176.9,721.8 2177.7,723.1C2178.3,724.0 2179.0,730.7 2179.6,733.7C2180.5,737.8 2181.3,742.5 2182.2,744.3C2183.5,747.0 2184.7,749.3 2186.0,749.6C2189.8,750.4 2193.6,750.7 2197.4,750.7C2201.6,750.7 2205.8,750.7 2210.0,750.7C2216.3,750.7 2222.7,749.5 2229.0,748.8C2235.3,748.1 2241.7,747.5 2248.0,746.5C2249.7,746.3 2251.3,745.9 2253.0,745.6"/>
<path class="curve" stroke="#ff8000" d="M228.0,591.2C318.7,591.1 409.3,591.0 500.0,590.9C566.7,590.8 633.3,590.7 700.0,590.6C733.3,590.6 766.7,590.6 800.0,590.4C806.0,590.4 812.0,590.3 818.0,590.0C819.6,590.0 821.3,589.6 822.9,588.9C823.6,588.6 824.2,587.5 824.9,586.7C825.9,585.3 826.9,583.7 827.9,581.6C828.9,579.6 829.8,576.2 830.8,573.6C831.3,572.1 831.9,570.3 832.4,569.3C832.7,568.7 833.1,567.9 833.4,567.9C833.7,567.9 834.1,568.7 834.4,569.3C834.9,570.3 835.5,572.1 836.0,573.6C837.0,576.2 837.9,579.5 838.9,581.6C839.9,583.7 840.9,585.6 841.9,586.6C842.8,587.5 843.6,588.3 844.5,588.5C846.3,589.0 848.2,589.4 850.0,589.4C852.7,589.4 855.3,589.4 858.0,589.4C860.7,589.4 863.3,588.1 866.0,588.1C868.7,588.1 871.3,589.4 874.0,589.5C879.3,589.9 884.7,590.0 890.0,590.1C910.0,590.5 930.0,590.7 950.0,590.8C966.7,590.8 983.3,590.9 1000.0,590.9C1100.0,591.1 1200.0,591.2 1300.0,591.2C1333.3,591.2 1366.7,590.5 1400.0,590.4C1500.0,590.1 1600.0,590.3 1700.0,589.9C1704.0,589.8 1708.0,589.8 1712.0,589.6C1713.7,589.5 1715.3,588.8 1717.0,588.8C1720.0,588.8 1723.0,589.4 1726.0,589.4C1727.8,589.4 1729.7,588.7 1731.5,588.1C1733.8,587.4 1736.0,584.1 1738.3,584.1C1740.5,584.1 1742.8,586.3 1745.0,587.0C1747.3,587.8 1749.7,588.8 1752.0,588.9C1758.0,589.1 1764.0,589.2 1770.0,589.2C1779.3,589.2 1788.7,589.1 1798.0,589.0C1800.7,588.9 1803.3,588.9 1806.0,588.9C1808.3,588.8 1810.7,588.6 1813.0,588.2C1814.3,588.0 1815.7,587.3 1817.0,586.3C1817.8,585.7 1818.7,584.7 1819.5,582.9C1820.0,581.8 1820.5,580.3 1821.0,576.1C1821.3,573.9 1821.5,560.9 1821.8,554.8C1822.1,547.9 1822.4,543.0 1822.7,536.8C1823.4,522.3 1824.1,502.2 1824.8,491.6C1825.3,484.0 1825.8,476.4 1826.3,473.6C1826.6,472.1 1826.8,471.0 1827.1,470.5C1827.4,469.9 1827.6,469.4 1827.9,469.4C1828.2,469.4 1828.4,469.9 1828.7,470.5C1828.9,470.9 1829.2,471.9 1829.4,473.6C1829.7,475.5 1829.9,486.0 1830.2,491.5C1831.0,508.0 1831.8,523.9 1832.6,536.4C1833.0,543.2 1833.5,551.3 1833.9,554.3C1834.6,559.2 1835.3,562.6 1836.0,563.6C1837.6,565.8 1839.2,567.1 1840.8,567.1C1846.6,567.1 1852.5,563.1 1858.3,561.1C1865.3,558.6 1872.4,556.2 1879.4,553.6C1884.1,551.9 1888.7,550.5 1893.4,548.2C1896.7,546.6 1900.0,544.8 1903.3,541.5C1905.6,539.2 1908.0,534.8 1910.3,529.0C1911.9,525.0 1913.6,518.5 1915.2,510.9C1916.4,505.5 1917.5,497.8 1918.7,490.0C1919.6,483.8 1920.6,475.4 1921.5,469.2C1922.3,463.7 1923.2,458.9 1924.0,454.1C1924.9,449.2 1925.7,445.6 1926.6,440.3C1927.2,436.3 1927.9,429.7 1928.5,426.5C1929.5,421.5 1930.5,417.9 1931.5,415.4C1933.0,411.7 1934.5,408.6 1936.0,407.2C1938.0,405.3 1939.9,404.5 1941.9,403.6C1943.9,402.6 1945.9,402.3 1947.9,401.2C1949.4,400.3 1950.9,398.8 1952.4,397.0C1953.7,395.4 1954.9,393.3 1956.2,390.4C1957.2,388.1 1958.2,384.5 1959.2,380.3C1959.9,377.2 1960.7,373.0 1961.4,368.3C1962.0,364.2 1962.7,359.2 1963.3,353.4C1963.7,350.0 1964.0,345.4 1964.4,341.4C1964.8,337.4 1965.1,332.6 1965.5,329.4C1966.1,324.5 1966.6,322.1 1967.2,317.4C1968.0,311.0 1968.7,302.0 1969.5,293.5C1970.0,288.2 1970.4,282.3 1970.9,276.7C1971.1,274.3 1971.3,271.4 1971.5,269.5C1971.8,266.9 1972.0,264.0 1972.3,263.1C1972.7,261.8 1973.1,260.7 1973.5,260.7C1974.0,260.7 1974.5,261.9 1974.9,263.3C1975.2,264.3 1975.6,267.4 1975.9,270.2C1976.1,272.3 1976.3,275.4 1976.6,278.0C1977.1,284.1 1977.7,289.9 1978.2,296.2C1978.9,304.4 1979.6,313.6 1980.3,322.2C1980.7,326.6 1981.0,330.5 1981.4,335.2C1981.8,341.0 1982.3,348.2 1982.7,354.7C1983.1,361.2 1983.5,367.6 1984.0,374.1C1984.4,380.6 1984.8,387.1 1985.3,393.6C1985.7,400.1 1986.1,406.8 1986.6,413.1C1987.0,419.1 1987.4,426.2 1987.8,430.5C1988.6,439.7 1989.5,444.5 1990.4,451.3C1991.5,460.7 1992.7,470.4 1993.8,479.1C1995.0,487.7 1996.2,496.9 1997.3,503.3C1999.1,513.4 2001.0,521.3 2002.8,527.6C2005.0,535.2 2007.2,541.4 2009.5,546.1C2011.8,551.2 2014.2,555.6 2016.6,558.3C2019.0,561.2 2021.5,563.8 2024.0,564.7C2026.9,565.6 2029.7,566.4 2032.6,566.4C2034.6,566.4 2036.6,564.7 2038.6,563.0C2040.4,561.5 2042.3,557.5 2044.2,553.4C2045.7,550.0 2047.2,543.8 2048.7,539.9C2050.2,536.2 2051.6,531.8 2053.1,530.3C2054.6,528.7 2056.0,527.2 2057.5,527.2C2059.1,527.2 2060.8,531.5 2062.4,533.5C2064.0,535.4 2065.6,538.6 2067.3,538.7C2069.3,538.9 2071.3,539.0 2073.3,539.0C2074.7,539.0 2076.2,537.6 2077.6,535.6C2078.5,534.4 2079.3,529.9 2080.2,524.7C2080.9,520.3 2081.7,509.8 2082.4,503.0C2083.2,495.3 2084.1,488.5 2084.9,481.2C2085.7,474.0 2086.6,466.8 2087.4,459.5C2088.2,452.3 2089.1,446.2 2089.9,437.8C2091.0,426.4 2092.2,412.4 2093.3,396.4C2094.0,386.0 2094.8,373.1 2095.5,360.3C2096.1,349.3 2096.8,339.4 2097.4,325.2C2097.9,314.0 2098.4,295.9 2098.9,283.2C2099.3,273.9 2099.6,263.7 2100.0,257.5C2100.4,250.1 2100.9,244.4 2101.3,240.3C2101.6,237.8 2101.8,235.2 2102.1,234.3C2102.5,232.9 2102.9,231.7 2103.3,231.7C2103.7,231.7 2104.1,232.9 2104.5,234.2C2104.8,235.1 2105.0,237.6 2105.3,240.0C2105.7,243.9 2106.2,249.3 2106.6,256.4C2107.0,262.4 2107.3,272.2 2107.7,281.1C2108.2,293.2 2108.7,310.6 2109.2,321.4C2109.8,335.0 2110.5,344.5 2111.1,355.1C2111.8,367.3 2112.6,379.4 2113.3,389.6C2114.2,402.5 2115.2,413.9 2116.1,424.1C2116.8,431.8 2117.5,439.3 2118.2,444.9C2119.3,453.4 2120.3,459.4 2121.4,465.8C2122.7,473.4 2123.9,480.6 2125.2,486.6C2126.5,492.5 2127.7,498.0 2129.0,502.2C2130.7,507.7 2132.3,512.1 2134.0,515.8C2135.7,519.5 2137.4,523.6 2139.1,525.1C2140.2,526.1 2141.2,527.2 2142.3,527.2C2143.3,527.2 2144.4,526.1 2145.4,524.7C2146.3,523.5 2147.1,518.7 2148.0,515.6C2148.8,512.7 2149.7,507.7 2150.5,506.7C2151.8,505.2 2153.0,504.1 2154.3,504.1C2156.4,504.1 2158.5,504.2 2160.6,504.4C2161.9,504.5 2163.1,506.5 2164.4,508.2C2165.5,509.7 2166.5,513.9 2167.6,514.5C2169.1,515.3 2170.5,515.9 2172.0,515.9C2173.1,515.9 2174.1,514.1 2175.2,514.1C2176.0,514.1 2176.9,515.1 2177.7,516.5C2178.3,517.6 2179.0,525.1 2179.6,528.5C2180.5,533.2 2181.3,538.5 2182.2,540.6C2183.5,543.7 2184.7,546.3 2186.0,546.6C2189.8,547.5 2193.6,547.8 2197.4,547.8C2201.6,547.8 2205.8,547.8 2210.0,547.8C2216.3,547.8 2222.7,547.3 2229.0,546.9C2235.3,546.6 2241.7,546.3 2248.0,545.9C2249.7,545.7 2251.3,545.6 2253.0,545.4"/>
</g></g>
<g stroke="#000" stroke-width="5" fill="none">
<line x1="228.5" y1="1591.3" x2="228.5" y2="1622.3"/>
<line x1="374.3" y1="1591.3" x2="374.3" y2="1607.3"/>
<line x1="520.1" y1="1591.3" x2="520.1" y2="1622.3"/>
<line x1="666.0" y1="1591.3" x2="666.0" y2="1607.3"/>
<line x1="811.8" y1="1591.3" x2="811.8" y2="1622.3"/>
<line x1="957.6" y1="1591.3" x2="957.6" y2="1607.3"/>
<line x1="1103.4" y1="1591.3" x2="1103.4" y2="1622.3"/>
<line x1="1249.2" y1="1591.3" x2="1249.2" y2="1607.3"/>
<line x1="1395.1" y1="1591.3" x2="1395.1" y2="1622.3"/>
<line x1="1540.9" y1="1591.3" x2="1540.9" y2="1607.3"/>
<line x1="1686.7" y1="1591.3" x2="1686.7" y2="1622.3"/>
<line x1="1832.5" y1="1591.3" x2="1832.5" y2="1607.3"/>
<line x1="1978.4" y1="1591.3" x2="1978.4" y2="1622.3"/>
<line x1="2124.2" y1="1591.3" x2="2124.2" y2="1607.3"/>
<line x1="2270.0" y1="1591.3" x2="2270.0" y2="1622.3"/>
</g>
<g class="tick">
<text transform="translate(227.0,1707) scale(1,1.045)">4000</text>
<text transform="translate(518.6,1707) scale(1,1.045)">3500</text>
<text transform="translate(810.3,1707) scale(1,1.045)">3000</text>
<text transform="translate(1101.9,1707) scale(1,1.045)">2500</text>
<text transform="translate(1393.6,1707) scale(1,1.045)">2000</text>
<text transform="translate(1685.2,1707) scale(1,1.045)">1500</text>
<text transform="translate(1976.9,1707) scale(1,1.045)">1000</text>
<text transform="translate(2268.5,1707) scale(1,1.045)">500</text>
</g>
<text class="b" transform="translate(1249.5,1870) scale(1,1.015)" font-size="115.7" text-anchor="middle">Wavenumbers (cm<tspan font-size="80" dy="-33">-1</tspan><tspan dy="33">)</tspan></text>
<text class="b" transform="translate(121,814) rotate(-90) scale(1,1.015)" font-size="115.5" text-anchor="middle">Absorbance (a.u.)</text>
<g class="legend">
<rect x="259" y="67.2" width="574.5" height="465.3" fill="#fff" stroke="#9c9c9c" stroke-width="4.4"/>
<line x1="267.8" y1="121.1" x2="358.5" y2="121.1" stroke="#000000" stroke-width="12"/>
<text class="leg" transform="translate(380,149.9) scale(1,1.03)">PDMS pristine</text>
<line x1="267.8" y1="211.1" x2="358.5" y2="211.1" stroke="#ff0000" stroke-width="12"/>
<text class="leg" transform="translate(376,238.9) scale(1,1.03)">CF-0.5/PDMS</text>
<line x1="267.8" y1="300.2" x2="358.5" y2="300.2" stroke="#0000ff" stroke-width="12"/>
<text class="leg" transform="translate(376,328.0) scale(1,1.03)">CF-1.0/PDMS</text>
<line x1="267.8" y1="389.0" x2="358.5" y2="389.0" stroke="#008000" stroke-width="12"/>
<text class="leg" transform="translate(376,416.8) scale(1,1.03)">CF-2.0/PDMS</text>
<line x1="267.8" y1="478.2" x2="358.5" y2="478.2" stroke="#ff8000" stroke-width="12"/>
<text class="leg" transform="translate(376,506.0) scale(1,1.03)">CF-4.0/PDMS</text>
</g>
<g class="ann">
<text x="777.5" y="794.8" font-size="70" textLength="107.7" lengthAdjust="spacingAndGlyphs">C-H</text>
<text x="1718.3" y="290" font-size="67" textLength="200" lengthAdjust="spacingAndGlyphs">Si-O-Si</text>
<text x="1998.5" y="206" font-size="68" textLength="187.7" lengthAdjust="spacingAndGlyphs">Si-CH<tspan font-size="46.2" dy="16.5">3</tspan></text>
<text x="1635" y="515" font-size="70" textLength="135.8" lengthAdjust="spacingAndGlyphs">-CH<tspan font-size="47.6" dy="16.5">3</tspan></text>
</g>
</g>
</svg>
</body></html>
